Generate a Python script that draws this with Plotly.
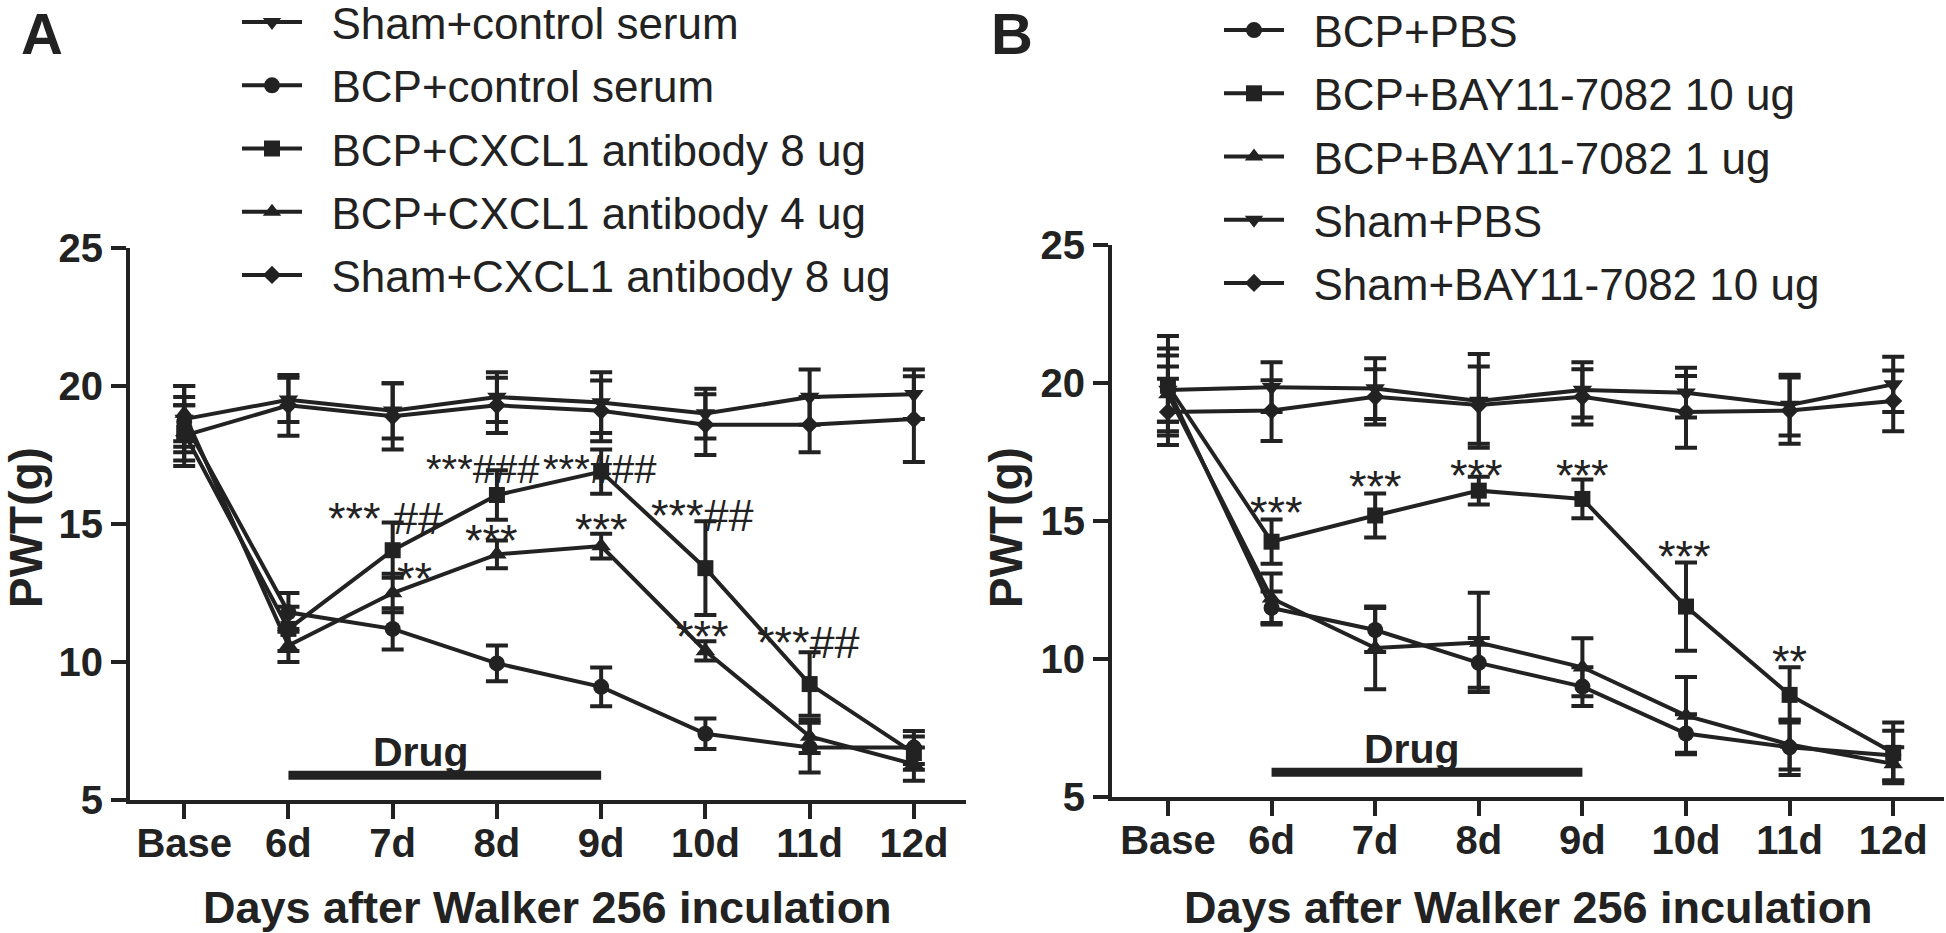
import plotly.graph_objects as go

# ---------------- data ----------------
days = ["Base", "6d", "7d", "8d", "9d", "10d", "11d", "12d"]

# Panel A
a_names = ["Sham+control serum", "BCP+control serum", "BCP+CXCL1 antibody 8 ug",
           "BCP+CXCL1 antibody 4 ug", "Sham+CXCL1 antibody 8 ug"]
a_sham_ctrl = [18.8, 19.5, 19.1, 19.6, 19.4, 19.0, 19.6, 19.7]
a_sham_ctrl_err = [1.2, 0.8, 1.0, 0.9, 1.1, 0.9, 1.0, 0.9]
a_bcp_ctrl = [18.7, 11.8, 11.2, 9.95, 9.1, 7.4, 6.9, 6.9]
a_bcp_ctrl_err = [0.9, 0.7, 0.75, 0.65, 0.7, 0.55, 0.9, 0.6]
a_cxcl_8 = [18.3, 11.2, 14.05, 16.05, 16.9, 13.4, 9.2, 6.7]
a_cxcl_8_err = [1.0, 0.8, 1.0, 0.9, 0.8, 1.7, 1.15, 0.6]
a_cxcl_4 = [19.0, 10.6, 12.5, 13.9, 14.2, 10.4, 7.3, 6.3]
a_cxcl_4_err = [1.0, 0.6, 0.7, 0.5, 0.45, 0.35, 0.6, 0.6]
a_sham_cxcl_8 = [18.2, 19.3, 18.9, 19.3, 19.1, 18.6, 18.6, 18.8]
a_sham_cxcl_8_err = [1.1, 1.1, 1.2, 1.0, 1.1, 1.1, 1.0, 1.55]

# Panel B
b_names = ["BCP+PBS", "BCP+BAY11-7082 10 ug", "BCP+BAY11-7082 1 ug",
           "Sham+PBS", "Sham+BAY11-7082 10 ug"]
b_bcp_pbs = [19.8, 11.85, 11.05, 9.86, 9.0, 7.3, 6.8, 6.5]
b_bcp_pbs_err = [1.2, 0.6, 0.8, 0.9, 0.7, 0.7, 1.0, 0.9]
b_bay_10 = [19.9, 14.25, 15.2, 16.1, 15.8, 11.9, 8.7, 6.6]
b_bay_10_err = [1.8, 0.8, 0.8, 0.5, 0.7, 1.6, 1.0, 1.1]
b_bay_1 = [19.6, 12.2, 10.4, 10.6, 9.7, 7.95, 6.9, 6.2]
b_bay_1_err = [1.0, 0.9, 1.5, 1.8, 1.05, 1.4, 0.9, 0.6]
b_sham_pbs = [19.75, 19.85, 19.8, 19.35, 19.75, 19.65, 19.2, 19.95]
b_sham_pbs_err = [1.5, 0.9, 1.1, 1.7, 1.0, 0.9, 1.1, 1.0]
b_sham_bay = [18.95, 19.0, 19.5, 19.2, 19.5, 18.95, 19.0, 19.35]
b_sham_bay_err = [1.2, 1.1, 1.0, 1.4, 1.0, 1.3, 1.2, 1.1]

# significance labels: (text, x position in category units, y value, font size)
a_sig = [("*** ##", 1.93, 15.5, 45), ("**", 2.21, 13.3, 45), ("***###", 2.87, 17.3, 40),
         ("***###", 3.99, 17.3, 40), ("***", 2.95, 14.7, 45), ("***", 4.0, 15.1, 45),
         ("***##", 4.97, 15.6, 45), ("***", 4.97, 11.2, 45), ("***##", 5.99, 11.0, 45)]
b_sig = [("***", 1.05, 15.6, 45), ("***", 2.0, 16.55, 45), ("***", 2.98, 16.95, 45),
         ("***", 4.0, 16.95, 45), ("***", 4.99, 14.0, 45), ("**", 6.0, 10.2, 45)]

drug_start, drug_end, drug_level = "6d", "9d", 5.9
a_drug_label_pos, b_drug_label_pos = 2.27, 2.36
drug_label_level = 6.75
y_ticks = [5, 10, 15, 20, 25]
y_range = [5, 25]

# ---------------- style ----------------
W, H = 1946, 933
ink = "#222222"
FONT = "Liberation Sans, Arial, Helvetica, sans-serif"
GAP = "\u00a0\u00a0"   # visual gap between legend symbol and its label

def px_x(p):
    return p / W

def px_y(p):
    return 1 - p / H

fig = go.Figure()

a_series = [
    (a_names[0], a_sham_ctrl, a_sham_ctrl_err, "triangle-down", 17),
    (a_names[1], a_bcp_ctrl, a_bcp_ctrl_err, "circle", 16),
    (a_names[2], a_cxcl_8, a_cxcl_8_err, "square", 16),
    (a_names[3], a_cxcl_4, a_cxcl_4_err, "triangle-up", 17),
    (a_names[4], a_sham_cxcl_8, a_sham_cxcl_8_err, "diamond", 14),
]
b_series = [
    (b_names[0], b_bcp_pbs, b_bcp_pbs_err, "circle", 16),
    (b_names[1], b_bay_10, b_bay_10_err, "square", 16),
    (b_names[2], b_bay_1, b_bay_1_err, "triangle-up", 17),
    (b_names[3], b_sham_pbs, b_sham_pbs_err, "triangle-down", 17),
    (b_names[4], b_sham_bay, b_sham_bay_err, "diamond", 14),
]

for series, xa, ya, leg in [(a_series, "x", "y", "legend"), (b_series, "x2", "y2", "legend2")]:
    for name, vals, err, sym, size in series:
        fig.add_trace(go.Scatter(
            x=days, y=vals, name=GAP + name, mode="lines+markers",
            xaxis=xa, yaxis=ya, legend=leg, legendgroup=name,
            line=dict(color=ink, width=4),
            marker=dict(symbol=sym, size=size, color=ink, line=dict(width=0)),
            error_y=dict(type="data", array=err, visible=True, color=ink,
                         thickness=4, width=11),
        ))

axis_common = dict(
    showline=True, linewidth=4, linecolor=ink, showgrid=False, zeroline=False,
    ticks="outside", ticklen=15, tickwidth=4, tickcolor=ink,
    tickfont=dict(family=FONT, size=40, color=ink, weight="bold"),
)

legend_common = dict(xanchor="left", yanchor="top", itemwidth=60,
                     font=dict(family=FONT, size=44, color=ink),
                     bgcolor="rgba(0,0,0,0)", tracegroupgap=3)

fig.update_layout(
    width=W, height=H, autosize=False,
    margin=dict(l=0, r=0, t=0, b=0, pad=0, autoexpand=False),
    paper_bgcolor="white", plot_bgcolor="white",
    font=dict(family=FONT, color=ink),
    xaxis=dict(domain=[px_x(130), px_x(966)], anchor="y", type="category",
               range=[-0.52, 7.5], ticklabelstandoff=-10, **axis_common),
    yaxis=dict(domain=[px_y(800), px_y(248)], anchor="x", range=y_range,
               tickvals=y_ticks, **axis_common),
    xaxis2=dict(domain=[px_x(1112), px_x(1944)], anchor="y2", type="category",
                range=[-0.54, 7.49], ticklabelstandoff=-10, **axis_common),
    yaxis2=dict(domain=[px_y(797), px_y(245)], anchor="x2", range=y_range,
                tickvals=y_ticks, **axis_common),
    legend=dict(x=px_x(237), y=px_y(-13), **legend_common),
    legend2=dict(x=px_x(1219), y=px_y(-5), **legend_common),
    showlegend=True,
)

ann = []
for sig, xr, yr, dpos in [(a_sig, "x", "y", a_drug_label_pos), (b_sig, "x2", "y2", b_drug_label_pos)]:
    for text, xv, yv, fs in sig:
        ann.append(dict(text=text, x=xv, y=yv, xref=xr, yref=yr, showarrow=False,
                        xanchor="center", yanchor="middle", yshift=-8,
                        font=dict(family=FONT, size=fs, color=ink)))
    ann.append(dict(text="Drug", x=dpos, y=drug_label_level, xref=xr, yref=yr,
                    showarrow=False, xanchor="center", yanchor="middle",
                    font=dict(family=FONT, size=41, color=ink, weight="bold")))

# axis titles and panel letters
title_font = dict(family=FONT, size=45, color=ink, weight="bold")
ann.append(dict(text="Days after Walker 256 inculation", x=px_x(547), y=px_y(907),
                xref="paper", yref="paper", showarrow=False, xanchor="center",
                yanchor="middle", font=title_font))
ann.append(dict(text="Days after Walker 256 inculation", x=px_x(1528), y=px_y(907),
                xref="paper", yref="paper", showarrow=False, xanchor="center",
                yanchor="middle", font=title_font))
ann.append(dict(text="PWT(g)", x=px_x(26), y=px_y(528), xref="paper", yref="paper",
                showarrow=False, textangle=-90, xanchor="center", yanchor="middle",
                font=dict(family=FONT, size=46, color=ink, weight="bold")))
ann.append(dict(text="PWT(g)", x=px_x(1006), y=px_y(528), xref="paper", yref="paper",
                showarrow=False, textangle=-90, xanchor="center", yanchor="middle",
                font=dict(family=FONT, size=46, color=ink, weight="bold")))
ann.append(dict(text="A", x=px_x(20), y=1, xref="paper", yref="paper",
                showarrow=False, xanchor="left", yanchor="top", borderpad=0,
                font=dict(family=FONT, size=58, color=ink, weight="bold")))
ann.append(dict(text="B", x=px_x(990), y=1, xref="paper", yref="paper",
                showarrow=False, xanchor="left", yanchor="top", borderpad=0,
                font=dict(family=FONT, size=58, color=ink, weight="bold")))
fig.update_layout(annotations=ann)

shapes = []
for xr, yr in [("x", "y"), ("x2", "y2")]:
    shapes.append(dict(type="line", xref=xr, yref=yr, x0=drug_start, x1=drug_end,
                       y0=drug_level, y1=drug_level, line=dict(color=ink, width=9)))
fig.update_layout(shapes=shapes)

fig.write_html("out.html", config={"displayModeBar": False},
               post_script="document.body.style.margin='0';document.body.style.overflow='hidden';")
